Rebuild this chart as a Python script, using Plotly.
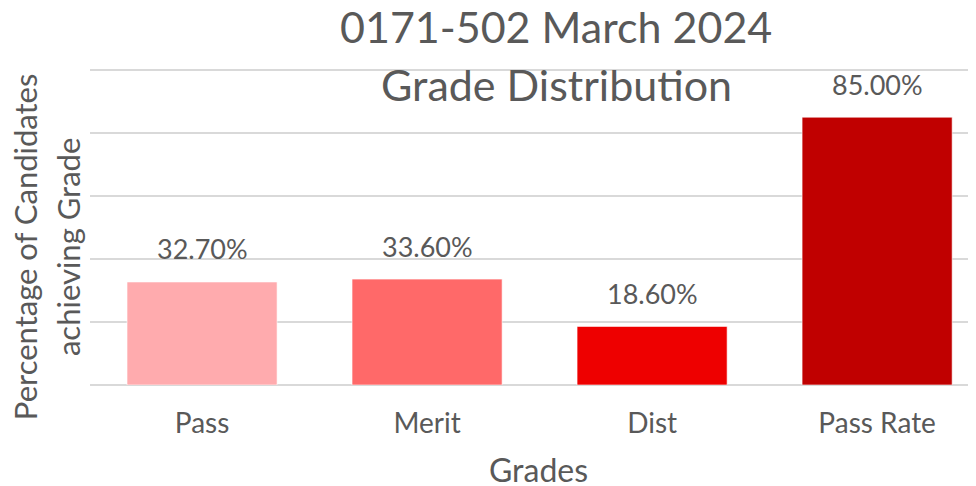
import plotly.graph_objects as go

categories = ["Pass", "Merit", "Dist", "Pass Rate"]
values = [32.7, 33.6, 18.6, 85.0]
labels = ["32.70%", "33.60%", "18.60%", "85.00%"]
colors = ["#FFABAE", "#FF6969", "#EE0000", "#C00000"]
title_lines = ["0171-502 March 2024", "Grade Distribution"]
ytitle_lines = ["Percentage of Candidates", "achieving Grade"]
xtitle = "Grades"

FONT = "Lato"
GREY = "#595959"

fig = go.Figure()
fig.add_trace(go.Bar(
    x=categories, y=values,
    marker=dict(color=colors, line=dict(color="rgba(255,255,255,0.6)", width=1)),
    hoverinfo="skip",
))

for c, v, t in zip(categories, values, labels):
    fig.add_annotation(x=c, y=v, text=t, showarrow=False, yanchor="middle",
                       yshift=33, font=dict(family=FONT, size=27, color=GREY))

# chart title (two lines)
fig.add_annotation(xref="paper", yref="paper", x=0.5266, y=1.13, text=title_lines[0],
                   showarrow=False, xanchor="center", yanchor="middle",
                   font=dict(family=FONT, size=43, color=GREY))
fig.add_annotation(xref="paper", yref="paper", x=0.5266, y=0.947, text=title_lines[1],
                   showarrow=False, xanchor="center", yanchor="middle",
                   font=dict(family=FONT, size=43, color=GREY))
# y axis title (two lines)
fig.add_annotation(xref="paper", yref="paper", x=-0.0734, y=0.435, text=ytitle_lines[0],
                   showarrow=False, textangle=-90, xanchor="center", yanchor="middle",
                   font=dict(family=FONT, size=31, color=GREY))
fig.add_annotation(xref="paper", yref="paper", x=-0.0249, y=0.435, text=ytitle_lines[1],
                   showarrow=False, textangle=-90, xanchor="center", yanchor="middle",
                   font=dict(family=FONT, size=31, color=GREY))
# x axis title
fig.add_annotation(xref="paper", yref="paper", x=0.507, y=-0.268, text=xtitle,
                   showarrow=False, xanchor="center", yanchor="middle",
                   font=dict(family=FONT, size=32, color=GREY))

fig.update_layout(
    width=968, height=478,
    margin=dict(l=82, r=1, t=60, b=101),
    paper_bgcolor="white", plot_bgcolor="white",
    bargap=0.333,
    showlegend=False,
    xaxis=dict(range=[-0.498, 3.435], automargin=False,
               tickfont=dict(family=FONT, size=28, color=GREY),
               showgrid=False, showline=False, ticks="", ticklabelstandoff=19),
    yaxis=dict(range=[0, 100.6], dtick=20, showticklabels=False, automargin=False,
               gridcolor="#D9D9D9", gridwidth=2, zeroline=True, zerolinecolor="#D9D9D9",
               zerolinewidth=2),
)

fig.write_html("out.html")
